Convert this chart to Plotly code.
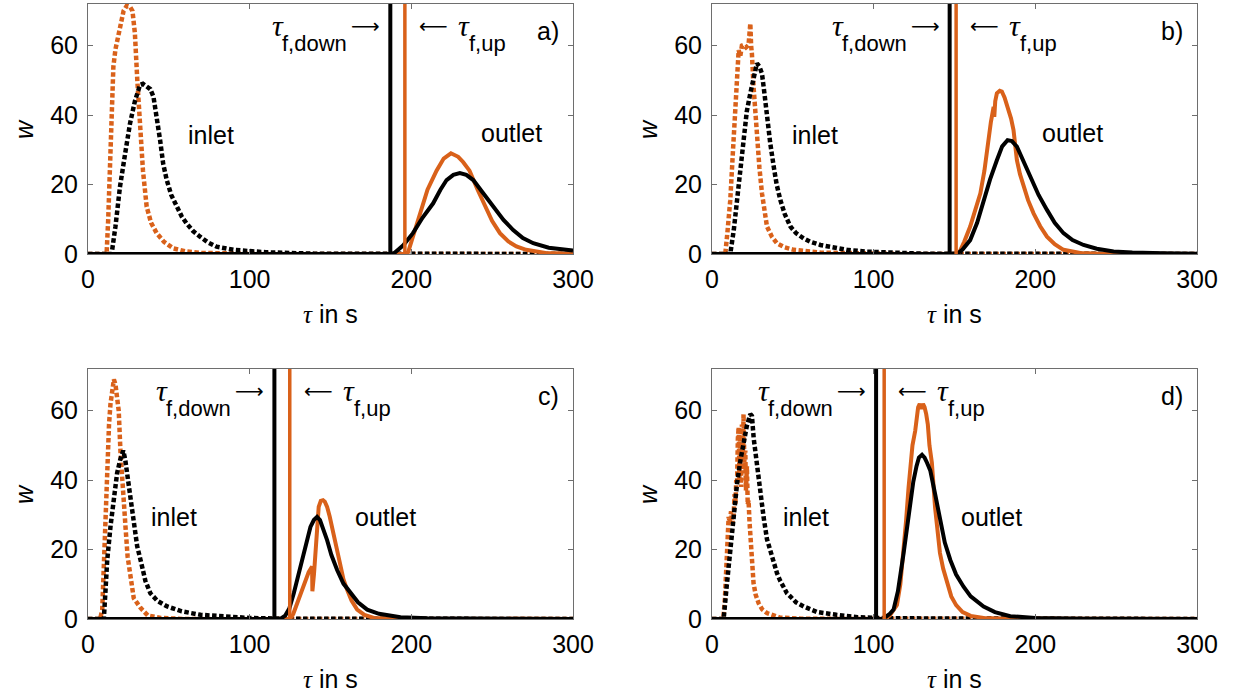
import plotly.graph_objects as go

# ---------------- data ----------------
# panel a
a_in_or_x = [0, 11.5, 12.5, 13.7, 14.7, 15.7, 17, 18.8, 20.5, 22, 24, 26, 27.5, 28.5, 29, 30.5, 32.2, 34, 36.3, 39, 42.5, 47, 52.8, 60, 70, 90, 120, 300]
a_in_or_y = [0, 0, 10, 30, 45, 54, 59, 63.5, 67, 70, 71.5, 71.2, 70, 66, 63.6, 50, 34.7, 24, 13.6, 9, 6, 3.5, 1.6, 0.8, 0.3, 0.1, 0, 0]
a_in_bk_x = [0, 14.6, 17, 19.8, 23, 26, 29, 32.2, 34, 36.3, 38.5, 40.5, 42.5, 44.6, 46.5, 48.7, 51.5, 54.9, 58, 61, 65, 69.3, 74, 79.6, 89.9, 110, 140, 300]
a_in_bk_y = [0, 0, 8, 19.4, 29, 37.6, 44, 48.7, 49, 48.2, 47.5, 45.3, 40, 32.8, 26, 21.3, 17, 13.6, 10.8, 8.8, 6.6, 5, 3.4, 2.1, 1.2, 0.5, 0.1, 0]
a_out_or_x = [0, 196.5, 198, 201, 205, 210, 215.6, 220, 224.5, 229, 232, 236, 241, 246.5, 250, 254.8, 260, 265, 271, 283, 300]
a_out_or_y = [0, 0, 0.5, 5, 11.7, 18.5, 24, 27.5, 29, 28, 26.5, 24, 18.5, 12.7, 9.5, 6, 3.6, 2.2, 1.2, 0.3, 0.1]
a_out_bk_x = [0, 188.8, 195, 201, 207, 213.5, 218, 221.8, 226, 230, 234, 238.3, 244, 250.7, 257, 263, 269, 275.4, 285, 300]
a_out_bk_y = [0, 0, 2.5, 6, 10.5, 14.6, 18.5, 21.3, 22.8, 23.3, 22.8, 21.3, 17.8, 13.6, 9.8, 6.9, 4.6, 3.1, 1.8, 1.0]

# panel b
b_in_or_x = [0, 8.2, 9.5, 11.3, 13, 14.4, 15.4, 16.5, 17.5, 18.5, 19.5, 21, 22.6, 23.3, 23.7, 24.2, 24.7, 25.7, 26.8, 27.8, 29.3, 30.9, 32.5, 34, 37, 40.2, 45, 50.5, 67, 90, 120, 300]
b_in_or_y = [0, 0, 6, 15.5, 30, 44.3, 50, 58.7, 57, 60, 60.2, 59.5, 60.2, 63, 66.4, 60, 57.6, 48.2, 40, 32.8, 25, 17.5, 12, 7.9, 5, 3.1, 1.9, 1.2, 0.4, 0.1, 0, 0]
b_in_bk_x = [0, 11.3, 13.5, 15.4, 17.5, 19.5, 21.5, 23.7, 25.7, 27.8, 29.3, 30.9, 32.5, 34, 36, 38.2, 40, 42.3, 45, 48.5, 52, 56.7, 61, 67, 75, 83.5, 95, 108, 130, 300]
b_in_bk_y = [0, 0, 7, 15.5, 25, 34.7, 41, 46.3, 51, 54.9, 54, 52, 46, 39.5, 32, 25.1, 20, 15.5, 11.5, 7.9, 6, 4.5, 3.5, 2.6, 1.8, 1.2, 0.7, 0.4, 0.1, 0]
b_out_or_x = [0, 151.5, 153, 156, 159.7, 163, 166, 168.5, 171, 172.5, 174.2, 174.6, 175.2, 176.2, 178, 179.3, 181, 183.4, 185, 186.5, 187.5, 188.6, 190.5, 192.7, 195.5, 198.9, 203, 207.2, 212, 217.4, 227.8, 240, 300]
b_out_or_y = [0, 0, 0.5, 3.5, 7.9, 12.5, 17.5, 24, 33.8, 38, 42.4, 39.5, 44, 46.3, 47, 46.8, 45, 41.5, 39, 35.7, 30, 27, 23, 19.4, 15.5, 11.7, 8, 5, 2.8, 1.2, 0.3, 0.1, 0]
b_out_bk_x = [0, 151.5, 155, 159.7, 164, 168, 172, 176.2, 179.5, 182.8, 185.5, 188.6, 192.5, 196.8, 202, 207.2, 212, 217.4, 223, 229.8, 238, 248.4, 260, 279, 300]
b_out_bk_y = [0, 0, 1.3, 4, 9, 15.5, 21.5, 27, 31, 32.8, 32.5, 30.9, 27, 22.3, 17, 12.7, 9, 6, 4, 2.6, 1.5, 0.7, 0.4, 0.2, 0.1]

# panel c
c_in_or_x = [0, 7.5, 8.8, 9.8, 10.8, 11.9, 13, 13.9, 15, 16, 17, 18, 19, 20.1, 21, 22, 23.2, 24.5, 26.3, 28.3, 32.5, 37, 45, 60, 300]
c_in_or_y = [0, 0, 2.7, 17, 32, 45.6, 56, 61.9, 66, 69, 67.5, 64, 60, 48, 40, 32, 26.5, 18, 12.2, 6, 3.2, 1, 0.3, 0, 0]
c_in_bk_x = [0, 9.8, 10.8, 11.9, 14, 16, 18, 20, 21.8, 23, 24.5, 26.3, 28.3, 30.4, 32.5, 35.5, 38.6, 43, 49, 58, 69.6, 85, 100, 120, 300]
c_in_bk_y = [0, 0, 8, 17, 27, 36, 42, 46, 48.5, 46, 41, 34.2, 26.6, 21, 17, 11, 7.4, 5.2, 3.6, 2.2, 1.2, 0.6, 0.3, 0.1, 0]
c_out_or_x = [0, 125, 127, 129.4, 131.4, 134, 136.5, 138.6, 138.8, 139.8, 140.7, 141.7, 142.7, 144, 145.4, 146.5, 147.9, 149.5, 151, 153, 156.2, 158, 160.3, 163, 166.5, 171, 176.8, 190, 300]
c_out_or_y = [0, 0, 1.5, 4.6, 7, 10.5, 13.5, 15.1, 8, 13, 19.9, 26, 32.3, 34, 34.2, 33.8, 32.3, 29.5, 26.5, 22, 15.1, 11.5, 8.4, 5.3, 2.7, 1.2, 0.3, 0.1, 0]
c_out_bk_x = [0, 119, 122, 124.5, 127.3, 129.5, 131.4, 133.5, 135.5, 137.6, 139.7, 141.7, 143.5, 145.5, 147.9, 150.5, 154.1, 158, 162.3, 167, 172.7, 180, 193.3, 210, 300]
c_out_bk_y = [0, 0, 1, 3, 7.4, 11.5, 15.1, 20, 23.5, 26.5, 28.5, 29.4, 28.5, 26, 22.7, 18.5, 14.1, 10.2, 7.4, 4.8, 2.7, 1.5, 0.5, 0.2, 0]

# panel d
d_in_or_x = [0, 7, 8, 9.3, 10.3, 11, 11.8, 12.5, 13.4, 14, 14.5, 15, 15.5, 16, 16.5, 17, 17.5, 18, 18.5, 19, 19.5, 20, 20.6, 21, 21.6, 22.1, 22.6, 23.2, 23.7, 24.7, 25.7, 27, 28.8, 31, 34, 42, 55, 300]
d_in_or_y = [0, 0, 6, 19.9, 29.4, 28, 31, 27.5, 30, 36, 33, 40, 39, 52, 55.2, 40, 53, 38, 56, 42, 59, 45, 48.5, 37, 44, 33, 34.2, 28, 24.6, 16, 10.3, 7, 4.6, 2.8, 1.7, 0.4, 0.1, 0]
d_in_bk_x = [0, 7.2, 9, 11.3, 13.4, 15.5, 17.5, 19.5, 21.5, 23.7, 24.7, 25.8, 26.8, 27.8, 28.8, 30.4, 31.9, 34, 36, 38, 40.2, 42.2, 46.4, 48.4, 52, 56.7, 65, 77, 90, 110, 300]
d_in_bk_y = [0, 0, 9, 19.9, 29, 39, 45.5, 51.4, 55.5, 59, 58.5, 52, 48, 44.7, 39, 34, 29.4, 23, 19.5, 16, 13.2, 11, 7.4, 6.5, 4.8, 3.6, 2, 1.2, 0.5, 0.2, 0]
d_out_or_x = [0, 106.5, 110, 112.5, 114.4, 116.5, 118.5, 120, 121.6, 122.6, 124, 125.7, 126.5, 127.5, 128.5, 129.5, 130.5, 131.5, 132.5, 133.5, 134.5, 136, 138, 139.5, 141, 143, 145, 148, 151, 155, 160, 168, 180, 300]
d_out_or_y = [0, 0, 1, 2.5, 4, 10, 19, 28, 38, 44.7, 50, 54.2, 58, 61, 62, 60.5, 62, 61, 59, 56, 50, 45, 32, 26, 19, 14.5, 11, 6.5, 4, 2, 0.9, 0.3, 0.1, 0]
d_out_bk_x = [0, 105, 108, 110, 112.3, 115, 118.5, 120.5, 122.6, 124.5, 126.5, 128, 129.9, 131.5, 133, 135, 138, 141.2, 144, 147.4, 151, 155.6, 160, 168, 175, 184.5, 200, 230, 300]
d_out_bk_y = [0, 0, 0.8, 1.5, 2.7, 8, 18.9, 26, 33.2, 39.5, 44, 46.5, 47.3, 46.5, 45, 42.8, 36, 28.5, 22, 17, 12.8, 9.3, 6.5, 3.6, 2, 0.8, 0.3, 0.1, 0]

panel_labels = ["a)", "b)", "c)", "d)"]
tau_f_down = [187, 147, 115.3, 101.5]
tau_f_up = [196, 151, 124.8, 106.5]
inlet_label_x = [76, 64, 53, 58]
inlet_label_y = [34.3, 34.3, 29.3, 29.3]
outlet_label_x = [262, 223, 184, 173]
outlet_label_y = [34.8, 34.8, 29.3, 29.3]
x_ticks = [0, 100, 200, 300]
y_ticks = [0, 20, 40, 60]
x_range = [0, 300]
y_range = [0, 72]

# ---------------- styling ----------------
ORANGE = "#D9611A"
BLACK = "#000000"
FRAME = "#6e6e6e"
SANS = "Liberation Sans, Arial, sans-serif"
SERIF = "Liberation Serif, Times New Roman, serif"
FS = 25

W, H = 1234, 698
x_domains = [[88 / W, 573 / W], [712 / W, 1197 / W]]
y_domains = [[444 / H, 694 / H], [79 / H, 329 / H]]

panels = [
    (a_in_or_x, a_in_or_y, a_in_bk_x, a_in_bk_y, a_out_or_x, a_out_or_y, a_out_bk_x, a_out_bk_y),
    (b_in_or_x, b_in_or_y, b_in_bk_x, b_in_bk_y, b_out_or_x, b_out_or_y, b_out_bk_x, b_out_bk_y),
    (c_in_or_x, c_in_or_y, c_in_bk_x, c_in_bk_y, c_out_or_x, c_out_or_y, c_out_bk_x, c_out_bk_y),
    (d_in_or_x, d_in_or_y, d_in_bk_x, d_in_bk_y, d_out_or_x, d_out_or_y, d_out_bk_x, d_out_bk_y),
]

fig = go.Figure()
layout = dict(
    width=W, height=H, margin=dict(l=0, r=0, t=0, b=0, pad=0, autoexpand=False),
    paper_bgcolor="white", plot_bgcolor="white", showlegend=False,
    font=dict(family=SANS, size=FS, color="black"),
)

annotations = []
shapes = []
dotdash = "4.5px,2.5px"

for i, p in enumerate(panels):
    n = i + 1
    xa = "x" if n == 1 else f"x{n}"
    ya = "y" if n == 1 else f"y{n}"
    xkey = "xaxis" if n == 1 else f"xaxis{n}"
    ykey = "yaxis" if n == 1 else f"yaxis{n}"
    col, row = i % 2, i // 2
    common = dict(
        showgrid=False, zeroline=False, showline=True, linecolor=FRAME, linewidth=1,
        mirror="ticks", ticks="inside", ticklen=5, tickwidth=1, tickcolor=FRAME,
        tickfont=dict(family=SANS, size=FS, color="black"), automargin=False,
    )
    layout[xkey] = dict(domain=x_domains[col], anchor=ya, range=x_range,
                        tickvals=x_ticks, ticklabelstandoff=3, **common)
    layout[ykey] = dict(domain=y_domains[row], anchor=xa, range=y_range,
                        tickvals=y_ticks, ticklabelstandoff=4, **common)

    ior_x, ior_y, ibk_x, ibk_y, oor_x, oor_y, obk_x, obk_y = p
    fig.add_trace(go.Scatter(x=ior_x, y=ior_y, mode="lines", xaxis=xa, yaxis=ya,
                             line=dict(color=ORANGE, width=4.5, dash=dotdash)))
    fig.add_trace(go.Scatter(x=ibk_x, y=ibk_y, mode="lines", xaxis=xa, yaxis=ya,
                             line=dict(color=BLACK, width=4.5, dash=dotdash)))
    fig.add_trace(go.Scatter(x=oor_x, y=oor_y, mode="lines", xaxis=xa, yaxis=ya,
                             line=dict(color=ORANGE, width=4)))
    fig.add_trace(go.Scatter(x=obk_x, y=obk_y, mode="lines", xaxis=xa, yaxis=ya,
                             line=dict(color=BLACK, width=4)))

    shapes.append(dict(type="line", xref=xa, yref=f"{ya} domain", x0=tau_f_down[i], x1=tau_f_down[i],
                       y0=0, y1=1, line=dict(color=BLACK, width=4)))
    shapes.append(dict(type="line", xref=xa, yref=f"{ya} domain", x0=tau_f_up[i], x1=tau_f_up[i],
                       y0=0, y1=1, line=dict(color=ORANGE, width=3.5)))

    def ann(text, x, xanchor, xshift, yshift, size=FS, family=SANS, xref=xa):
        annotations.append(dict(text=text, x=x, xref=xref, y=1, yref=f"{ya} domain",
                                xanchor=xanchor, yanchor="middle", xshift=xshift, yshift=yshift,
                                showarrow=False, borderpad=0, borderwidth=0,
                                font=dict(family=family, size=size, color="black")))

    # tau_f,down ->
    ann("⟶", tau_f_down[i], "right", -10, -22, size=20, family="DejaVu Sans")
    ann("f,down", tau_f_down[i], "right", -43, -40, size=22)
    ann("<i>τ</i>", tau_f_down[i], "right", -106, -22, size=30, family=SERIF)
    # <- tau_f,up
    ann("⟵", tau_f_up[i], "left", 14, -22, size=20, family="DejaVu Sans")
    ann("<i>τ</i>", tau_f_up[i], "left", 53, -22, size=30, family=SERIF)
    ann("f,up", tau_f_up[i], "left", 64, -40, size=22)
    # panel letter
    ann(panel_labels[i], 1, "right", -14, -27, xref=f"{xa} domain")

    # inlet / outlet labels
    for lx, ly, t in [(inlet_label_x[i], inlet_label_y[i], "inlet"), (outlet_label_x[i], outlet_label_y[i], "outlet")]:
        annotations.append(dict(text=t, x=lx, y=ly, xref=xa, yref=ya, showarrow=False,
                                xanchor="center", yanchor="middle",
                                font=dict(family=SANS, size=FS, color="black")))

    # axis titles
    annotations.append(dict(text="<i>w</i>", x=0, xref=f"{xa} domain", y=0.5, yref=f"{ya} domain",
                            xanchor="center", yanchor="middle", xshift=-64, textangle=-90,
                            showarrow=False, font=dict(family=SANS, size=FS, color="black")))
    annotations.append(dict(text="<span style='font-family:Liberation Serif'><i>τ</i></span> in s",
                            x=0.5, xref=f"{xa} domain", y=0, yref=f"{ya} domain",
                            xanchor="center", yanchor="middle", yshift=-60,
                            showarrow=False, font=dict(family=SANS, size=FS, color="black")))

layout["annotations"] = annotations
layout["shapes"] = shapes
fig.update_layout(**layout)
fig.write_html("out.html",
               post_script="document.body.style.margin='0';document.body.style.overflow='hidden';")
